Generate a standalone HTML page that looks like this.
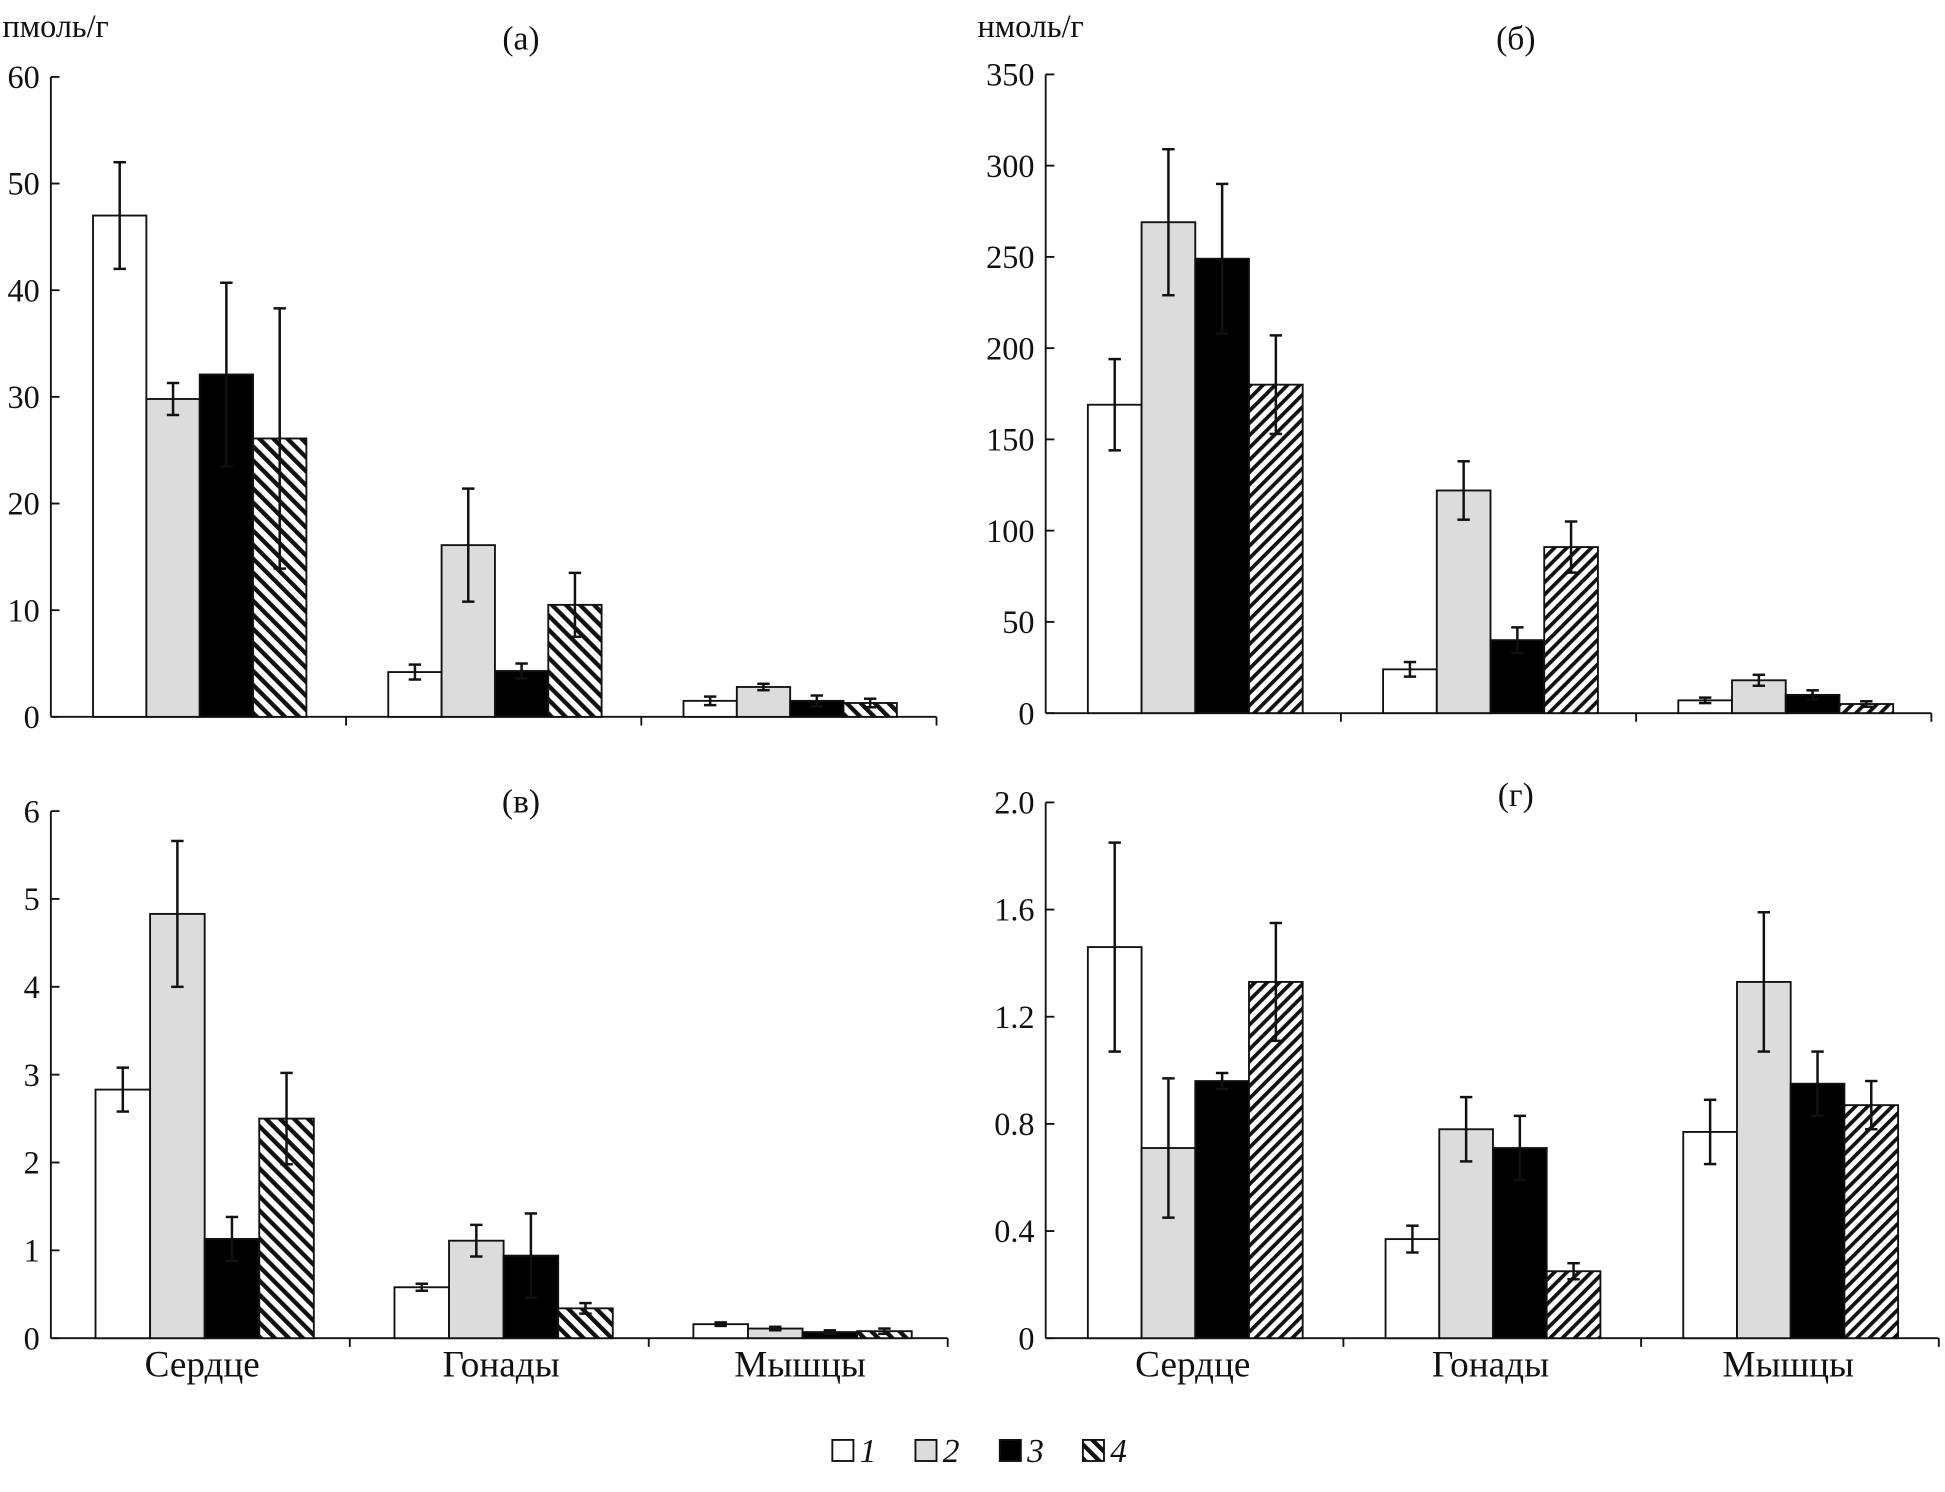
<!DOCTYPE html>
<html><head><meta charset="utf-8"><style>
html,body{margin:0;padding:0;background:#fff}
svg{display:block}
text{font-family:"Liberation Serif",serif;fill:#111}
</style></head><body>
<svg id="fig" width="1945" height="1492" viewBox="0 0 1568 1203" preserveAspectRatio="none" xmlns="http://www.w3.org/2000/svg">
<defs>
<pattern id="hb" patternUnits="userSpaceOnUse" width="8" height="8" patternTransform="rotate(-45)"><rect width="8" height="8" fill="#fff"/><rect width="3.5" height="8" fill="#111"/></pattern>
<pattern id="hf" patternUnits="userSpaceOnUse" width="7" height="7" patternTransform="rotate(45)"><rect width="7" height="7" fill="#fff"/><rect width="3" height="7" fill="#111"/></pattern>
</defs>
<g id="root"></g>
</svg>
<script>
const categories = ["Сердце","Гонады","Мышцы"];
const aVals = [[47,29.8,32.1,26.1],[4.2,16.1,4.3,10.5],[1.5,2.8,1.5,1.3]];
const aErr  = [[5,1.5,8.6,12.2],[0.7,5.3,0.7,3],[0.4,0.3,0.5,0.4]];
const bVals = [[169,269,249,180],[24,122,40,91],[7,18,10,5]];
const bErr  = [[25,40,41,27],[4,16,7,14],[1.5,3,2.5,1.5]];
const vVals = [[2.83,4.83,1.13,2.5],[0.58,1.11,0.94,0.34],[0.16,0.11,0.07,0.08]];
const vErr  = [[0.25,0.83,0.25,0.52],[0.04,0.18,0.48,0.06],[0.02,0.02,0.02,0.03]];
const gVals = [[1.46,0.71,0.96,1.33],[0.37,0.78,0.71,0.25],[0.77,1.33,0.95,0.87]];
const gErr  = [[0.39,0.26,0.03,0.22],[0.05,0.12,0.12,0.03],[0.12,0.26,0.12,0.09]];
const aTicks = ["0","10","20","30","40","50","60"];
const bTicks = ["0","50","100","150","200","250","300","350"];
const vTicks = ["0","1","2","3","4","5","6"];
const gTicks = ["0","0.4","0.8","1.2","1.6","2.0"];

const NS="http://www.w3.org/2000/svg";
const root=document.getElementById('root');
function mk(tag,attrs,parent){const e=document.createElementNS(NS,tag);for(const k in attrs)e.setAttribute(k,attrs[k]);(parent||root).appendChild(e);return e;}
const fills=["#fff","#dcdcdc","#000"];

function panel(p){
  const g=mk('g',{});
  
  
  const max=parseFloat(p.ticks[p.ticks.length-1]);
  const y=v=>p.y0-(v/max)*(p.y0-p.yTop);
  const ax=mk('line',{x1:p.x0,y1:p.yTop,x2:p.x0,y2:p.y0,stroke:'#111','stroke-width':1.5},g);
  
  
  const xa=mk('line',{x1:p.x0,y1:p.y0,x2:p.x0+3*p.gw,y2:p.y0,stroke:'#111','stroke-width':1.5},g);
  
  
  for(let i=1;i<=3;i++){mk('line',{x1:p.x0+i*p.gw,y1:p.y0,x2:p.x0+i*p.gw,y2:p.y0+7,stroke:'#111','stroke-width':1.5},g);}
  p.ticks.forEach(t=>{
    const yy=y(parseFloat(t));
    mk('line',{x1:p.x0,y1:yy,x2:p.x0+7,y2:yy,stroke:'#111','stroke-width':1.5},g);
    const tx=mk('text',{x:p.x0-9,y:yy+9,'text-anchor':'end','font-size':26},g);
    tx.textContent=t;
    
    
  });
  const tt=mk('text',{x:p.tx,y:p.ty,'text-anchor':'middle','font-size':27},g);
  tt.textContent=p.title;
  
  
  if(p.unit){const u=mk('text',{x:p.ux,y:30,'font-size':26},g);u.textContent=p.unit;
    
    }
  p.vals.forEach((grp,gi)=>{
    grp.forEach((v,si)=>{
      const bx=p.x0+gi*p.gw+p.off+si*p.bw;
      const r=mk('rect',{x:bx,y:y(v),width:p.bw,height:p.y0-y(v),fill:si<3?fills[si]:'url(#'+p.hatch+')',stroke:'#111','stroke-width':1.5},g);
      
      
      const e=p.err[gi][si], cx=bx+p.bw/2;
      const lo=Math.max(0,v-e), hi=v+e;
      const eb=mk('g',{stroke:'#111','stroke-width':2},g);
      
      
      mk('line',{x1:cx,y1:y(lo),x2:cx,y2:y(hi)},eb);
      mk('line',{x1:cx-5,y1:y(hi),x2:cx+5,y2:y(hi)},eb);
      mk('line',{x1:cx-5,y1:y(lo),x2:cx+5,y2:y(lo)},eb);
    });
  });
  if(p.cats){categories.forEach((c,i)=>{
    const t=mk('text',{x:p.x0+i*p.gw+p.off+2*p.bw-2,y:1110,'text-anchor':'middle','font-size':30},g);
    t.textContent=c;
    
    
  });}
}
panel({id:'a',x0:41,yTop:62,y0:578,gw:238,off:34,bw:43,ticks:aTicks,vals:aVals,err:aErr,hatch:'hb',title:'(а)',tx:420,ty:40,unit:'пмоль/г',ux:2});
panel({id:'b',x0:843,yTop:60,y0:575,gw:238,off:34,bw:43.3,ticks:bTicks,vals:bVals,err:bErr,hatch:'hf',title:'(б)',tx:1222,ty:40,unit:'нмоль/г',ux:788});
panel({id:'v',x0:41,yTop:654,y0:1079,gw:241,off:36,bw:44,ticks:vTicks,vals:vVals,err:vErr,hatch:'hb',title:'(в)',tx:420,ty:655,cats:true});
panel({id:'g',x0:843,yTop:647,y0:1079,gw:240,off:34,bw:43.3,ticks:gTicks,vals:gVals,err:gErr,hatch:'hf',title:'(г)',tx:1222,ty:650,cats:true});

const leg=mk('g',{});


const lx=[671,738,806,873];
for(let i=0;i<4;i++){
  const r=mk('rect',{x:lx[i],y:1161,width:17,height:17,fill:i<3?fills[i]:'url(#hb)',stroke:'#111','stroke-width':1.5},leg);
  
  
  const t=mk('text',{x:lx[i]+22,y:1179,'font-size':27,'font-style':'italic'},leg);
  t.textContent=String(i+1);
  
  
}
</script>
</body></html>
